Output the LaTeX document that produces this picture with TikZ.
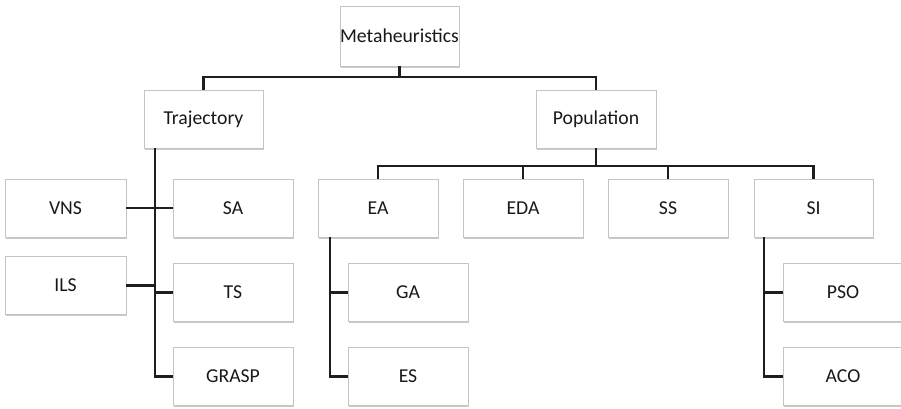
\documentclass[tikz,border=0pt]{standalone}
\usepackage{fontspec}
\setmainfont{Carlito}
\usetikzlibrary{shadows}
\definecolor{boxline}{HTML}{C4C4C4}
\definecolor{conn}{HTML}{1E1E1E}
\tikzset{
  box/.style={draw=boxline, line width=0.9pt, fill=white, minimum width=120pt, minimum height=58pt,
    inner sep=0pt, text=black!90, font=\fontsize{19.7}{23}\selectfont,
    drop shadow={shadow xshift=1pt, shadow yshift=-1.5pt, opacity=0.35, fill=black!60}},
  conn/.style={draw=conn, line width=2.3pt}
}
\begin{document}
\begin{tikzpicture}[x=1pt,y=-1pt]
\useasboundingbox (0,0) rectangle (901,408);
\node[box, minimum width=119pt, minimum height=60pt] (meta) at (399.5,36) {Metaheuristics};
\node[box, minimum width=119pt] (traj) at (203.5,119) {Trajectory};
\node[box] (pop) at (596,119) {Population};
\node[box, minimum width=121pt] (vns) at (65.5,208) {VNS};
\node[box] (sa) at (233,208) {SA};
\node[box, minimum width=121pt] (ils) at (65.5,285.5) {ILS};
\node[box] (ts) at (233,292.5) {TS};
\node[box] (grasp) at (233,376.5) {GRASP};
\node[box] (ea) at (378,208) {EA};
\node[box] (eda) at (523,208) {EDA};
\node[box] (ss) at (668,208) {SS};
\node[box, minimum width=119pt] (si) at (813.5,208) {SI};
\node[box] (ga) at (408,292.5) {GA};
\node[box] (es) at (408,376.5) {ES};
\node[box] (pso) at (843,292.5) {PSO};
\node[box] (aco) at (843,376.5) {ACO};
% top level
\coordinate (mj) at (399.5,77);
\draw[conn] (meta.south) -- (mj);
\draw[conn] (traj.north) |- (mj) -| (pop.north);
% population level
\coordinate (pj) at (596,166);
\draw[conn] (pop.south) -- (pj);
\draw[conn] (ea.north) |- (pj) -| (si.north);
\draw[conn] (eda.north) -- (eda.north |- pj);
\draw[conn] (ss.north) -- (ss.north |- pj);
% trajectory trunk
\coordinate (tt) at (155,148);
\draw[conn] (tt) |- (grasp.west);
\draw[conn] (vns.east) -- (sa.west);
\draw[conn] (ils.east) -- (tt |- ils.east);
\draw[conn] (ts.west) -- (tt |- ts.west);
% EA trunk
\coordinate (et) at (330,237);
\draw[conn] (et) |- (es.west);
\draw[conn] (ga.west) -- (et |- ga.west);
% SI trunk
\coordinate (st) at (764,237);
\draw[conn] (st) |- (aco.west);
\draw[conn] (pso.west) -- (st |- pso.west);
\end{tikzpicture}
\end{document}
